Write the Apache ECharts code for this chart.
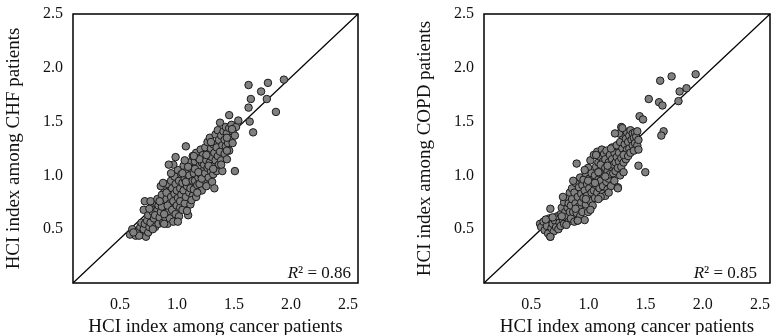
<!DOCTYPE html>
<html>
<head>
<meta charset="utf-8">
<script src="https://cdn.jsdelivr.net/npm/echarts@6/dist/echarts.min.js"></script>
<style>
  html, body { margin: 0; padding: 0; background: #fff; }
  #chart { width: 784px; height: 335px; }
</style>
</head>
<body>
<div id="chart"></div>
<script>
// axis settings shared by both panels
const axisMin = 0
const axisMax = 2.5
const axisStep = 0.5

const xAxisName = 'HCI index among cancer patients'
const yAxisNames = ['HCI index among CHF patients', 'HCI index among COPD patients']
const r2Values = ['0.86', '0.85']

// y = x reference line
const identityLine = [[0, 0], [2.5, 2.5]]

// [cancer HCI, CHF HCI]
const chfPoints = [
  [0.50,0.45],[0.52,0.50],[0.55,0.44],[0.57,0.48],[0.59,0.52],[0.61,0.45],[0.62,0.50],[0.64,0.43],
  [0.66,0.47],[0.58,0.44],[0.53,0.47],[0.60,0.56],[0.63,0.55],[0.67,0.52],[0.63,0.76],[0.62,0.68],
  [0.65,0.58],[0.66,0.63],[0.68,0.56],[0.69,0.71],[0.70,0.66],[0.71,0.60],[0.72,0.52],[0.73,0.74],
  [0.74,0.68],[0.68,0.76],[0.70,0.50],[0.75,0.55],[0.72,0.63],[0.67,0.69],[0.74,0.78],[0.76,0.61],
  [0.75,0.72],
  [0.77,0.66],[0.78,0.82],[0.79,0.56],[0.79,0.74],[0.80,0.88],[0.81,0.70],[0.81,0.61],[0.82,0.78],
  [0.83,0.92],[0.83,0.55],[0.84,0.67],[0.84,0.85],[0.85,0.74],[0.85,0.60],[0.77,0.90],[0.78,0.71],
  [0.80,0.64],[0.82,0.84],[0.76,0.76],[0.86,0.95],[0.86,0.80],[0.79,0.93],[0.83,0.72],[0.80,0.55],
  [0.87,0.68],[0.87,0.88],[0.88,0.57],[0.88,0.76],[0.89,0.99],[0.89,0.83],[0.90,0.64],[0.90,0.92],
  [0.91,0.72],[0.91,0.86],[0.92,1.05],[0.92,0.79],[0.93,0.95],[0.93,0.62],[0.94,0.70],[0.94,0.88],
  [0.95,1.01],[0.95,0.82],[0.88,1.10],[0.90,1.17],[0.86,1.02],[0.92,0.57],[0.94,0.76],[0.96,0.93],
  [0.96,0.68],[0.84,1.10],
  [0.97,1.09],[0.97,0.86],[0.98,0.74],[0.98,0.97],[0.99,1.27],[0.99,0.80],[1.00,1.04],[1.00,0.90],
  [1.01,0.63],[1.01,0.96],[1.02,1.12],[1.02,0.84],[1.03,0.99],[1.03,0.73],[1.04,1.06],[1.04,0.92],
  [1.05,1.18],[1.05,0.81],[0.98,1.14],[1.00,0.67],[1.02,1.00],[1.04,0.77],[0.96,1.02],[1.01,1.08],
  [1.03,0.88],[0.99,0.94],[1.05,0.95],
  [1.06,1.02],[1.06,0.87],[1.07,1.13],[1.07,0.95],[1.08,1.21],[1.08,0.80],[1.09,1.05],[1.09,0.91],
  [1.10,1.16],[1.10,0.98],[1.11,0.92],[1.11,1.09],[1.12,1.24],[1.12,1.01],[1.13,0.86],[1.13,1.12],
  [1.14,1.04],[1.14,1.19],[1.15,0.96],[1.15,1.10],[1.07,1.06],[1.09,0.84],[1.11,1.15],[1.13,0.97],
  [1.06,1.18],[1.10,1.03],
  [1.16,1.26],[1.16,1.02],[1.17,0.90],[1.17,1.14],[1.18,1.31],[1.18,1.07],[1.19,0.98],[1.19,1.20],
  [1.20,1.12],[1.20,1.35],[1.21,1.04],[1.21,1.25],[1.22,0.94],[1.22,1.17],[1.23,1.29],[1.23,1.09],
  [1.24,1.21],[1.24,0.88],[1.25,1.14],[1.25,1.38],[1.17,1.19],[1.19,1.09],[1.23,1.01],[1.21,1.31],
  [1.26,1.26],[1.26,1.04],[1.27,1.18],[1.27,1.42],[1.28,1.33],[1.28,1.10],[1.29,1.22],[1.29,1.49],
  [1.30,1.37],[1.30,1.14],[1.31,1.28],[1.31,1.04],[1.32,1.41],[1.33,1.20],[1.33,1.33],[1.34,1.45],
  [1.34,1.27],[1.35,1.39],[1.35,1.15],[1.36,1.30],
  [1.37,1.44],[1.37,1.23],[1.38,1.35],[1.39,1.47],[1.40,1.30],[1.40,1.41],[1.42,1.37],[1.43,1.45],
  [1.35,1.35],[1.395,1.43],[1.45,1.51],[1.37,1.56],[1.35,1.23],[1.42,1.04],[1.30,1.10],[1.23,1.06],
  [1.54,1.84],[1.71,1.86],[1.85,1.89],[1.65,1.78],[1.56,1.71],[1.70,1.71],[1.54,1.63],[1.78,1.59],
  [1.55,1.50],[1.58,1.40]
]

// [cancer HCI, COPD HCI]
const copdPoints = [
  [0.49,0.55],[0.50,0.52],[0.52,0.57],[0.53,0.49],[0.55,0.53],[0.56,0.46],[0.57,0.60],[0.58,0.43],
  [0.59,0.51],[0.60,0.55],[0.61,0.48],[0.62,0.58],[0.63,0.52],[0.64,0.62],[0.65,0.50],[0.58,0.69],
  [0.54,0.59],[0.60,0.61],[0.66,0.56],
  [0.67,0.64],[0.67,0.53],[0.68,0.70],[0.69,0.59],[0.70,0.75],[0.70,0.55],[0.71,0.66],[0.72,0.61],
  [0.73,0.79],[0.73,0.70],[0.74,0.57],[0.75,0.66],[0.75,0.84],[0.69,0.80],[0.72,0.54],[0.68,0.62],
  [0.74,0.74],
  [0.76,0.72],[0.76,0.60],[0.77,0.88],[0.77,0.78],[0.78,0.66],[0.79,0.84],[0.79,0.57],[0.80,0.74],
  [0.80,0.93],[0.81,1.11],[0.81,0.65],[0.82,0.80],[0.82,0.58],[0.83,0.89],[0.83,0.71],[0.84,0.98],
  [0.84,0.62],[0.85,0.83],[0.85,0.75],[0.78,0.95],[0.80,0.69],[0.86,0.91],[0.86,0.66],[0.88,0.585],
  [0.87,0.79],[0.87,0.96],[0.88,0.86],[0.89,0.73],[0.89,1.02],[0.90,0.92],[0.90,0.81],[0.91,0.66],
  [0.91,1.07],[0.92,0.88],[0.92,0.97],[0.93,0.76],[0.93,1.14],[0.94,0.84],[0.94,1.02],[0.95,0.93],
  [0.95,0.72],[0.89,0.78],[0.91,0.95],[0.93,0.68],[0.88,1.05],[0.96,1.19],[0.96,0.86],
  [0.97,1.00],[0.97,0.79],[0.98,1.08],[0.98,0.91],[0.99,1.22],[0.99,0.84],[1.00,1.12],[1.00,0.96],
  [1.01,1.04],[1.01,0.88],[1.02,1.17],[1.02,0.95],[1.03,1.24],[1.03,1.06],[1.04,0.90],[1.04,1.13],
  [1.05,1.00],[1.05,1.20],[0.98,1.19],[1.00,1.03],[1.02,1.10],[1.04,0.83],[1.06,1.07],[0.97,0.93],
  [1.06,1.15],[1.07,0.94],[1.07,1.23],[1.08,1.04],[1.08,0.87],[1.09,1.12],[1.09,0.97],[1.10,1.19],
  [1.10,1.01],[1.11,1.08],[1.11,0.90],[1.12,1.15],[1.12,1.26],[1.13,1.02],[1.13,1.10],[1.14,1.21],
  [1.14,0.95],[1.15,1.12],[1.15,1.04],[1.08,1.09],[1.11,1.25],[1.06,0.99],
  [1.16,1.17],[1.16,1.28],[1.17,1.07],[1.17,0.89],[1.18,1.21],[1.18,1.13],[1.19,1.00],[1.19,1.31],
  [1.20,1.16],[1.20,1.08],[1.21,1.25],[1.21,1.37],[1.22,1.12],[1.22,1.03],[1.23,1.29],[1.23,1.20],
  [1.24,1.15],[1.24,1.34],[1.25,1.24],[1.25,1.40],[1.18,1.39],[1.20,1.45],[1.22,1.19],
  [1.26,1.31],[1.26,1.18],[1.27,1.37],[1.27,1.25],[1.28,1.42],[1.28,1.21],[1.29,1.33],[1.30,1.28],
  [1.30,1.39],[1.31,1.35],[1.31,1.23],[1.32,1.40],[1.32,1.30],[1.33,1.36],[1.34,1.28],[1.34,1.41],
  [1.35,1.33],
  [1.145,1.39],[1.21,1.44],[1.35,1.24],[1.35,1.09],[1.41,1.03],[1.36,1.55],[1.39,1.52],[1.57,1.41],
  [1.55,1.37],[1.44,1.71],[1.53,1.68],[1.56,1.65],[1.54,1.88],[1.64,1.92],[1.71,1.78],[1.77,1.81],
  [1.70,1.69],[1.85,1.94],[0.82,0.58],[0.58,0.43],[1.06,0.81],[1.02,0.80],[1.17,0.88],[1.09,0.84],
  [1.00,0.78]
]

const fontFamily = 'Liberation Serif'
const tickFormatter = v => (v === 0 ? '' : v.toFixed(1))

const makeXAxis = idx => ({
  gridIndex: idx,
  type: 'value',
  min: axisMin,
  max: axisMax,
  interval: axisStep,
  name: xAxisName,
  nameLocation: 'middle',
  nameGap: 34,
  nameTextStyle: { fontFamily: fontFamily, fontSize: 19, color: '#111' },
  axisLine: { show: false },
  axisTick: { show: false },
  splitLine: { show: false },
  axisLabel: {
    formatter: tickFormatter,
    fontFamily: fontFamily,
    fontSize: 16,
    color: '#111',
    align: 'right',
    margin: 14
  }
})

const makeYAxis = idx => ({
  gridIndex: idx,
  type: 'value',
  min: axisMin,
  max: axisMax,
  interval: axisStep,
  name: yAxisNames[idx],
  nameLocation: 'middle',
  nameGap: 49,
  nameTextStyle: { fontFamily: fontFamily, fontSize: 19, color: '#111' },
  axisLine: { show: false },
  axisTick: { show: false },
  splitLine: { show: false },
  axisLabel: {
    formatter: tickFormatter,
    fontFamily: fontFamily,
    fontSize: 16,
    color: '#111',
    margin: 10
  }
})

const makeScatter = (idx, data) => ({
  type: 'scatter',
  xAxisIndex: idx,
  yAxisIndex: idx,
  data: data,
  symbolSize: 7.5,
  z: 3,
  itemStyle: { color: '#808080', borderColor: '#1a1a1a', borderWidth: 1, opacity: 1 }
})

const makeLine = idx => ({
  type: 'line',
  xAxisIndex: idx,
  yAxisIndex: idx,
  data: identityLine,
  showSymbol: false,
  symbol: 'none',
  z: 2,
  lineStyle: { color: '#000', width: 1.2 }
})

const chart = echarts.init(document.getElementById('chart'))
const option = {
  animation: false,
  grid: [
    { left: 73, top: 14, width: 285, height: 269, outerBoundsMode: 'none', show: true, borderColor: '#000', borderWidth: 1.5 },
    { left: 484, top: 14, width: 286, height: 269, outerBoundsMode: 'none', show: true, borderColor: '#000', borderWidth: 1.5 }
  ],
  xAxis: [makeXAxis(0), makeXAxis(1)],
  yAxis: [makeYAxis(0), makeYAxis(1)],
  series: [makeLine(0), makeLine(1), makeScatter(0, chfPoints), makeScatter(1, copdPoints)],
  graphic: [
    {
      type: 'text', right: 433, bottom: 53,
      style: {
        text: '{i|R}² = ' + r2Values[0],
        font: '17px ' + fontFamily, fill: '#111',
        rich: { i: { fontStyle: 'italic', fontFamily: fontFamily, fontSize: 17 } }
      }
    },
    {
      type: 'text', right: 27, bottom: 53,
      style: {
        text: '{i|R}² = ' + r2Values[1],
        font: '17px ' + fontFamily, fill: '#111',
        rich: { i: { fontStyle: 'italic', fontFamily: fontFamily, fontSize: 17 } }
      }
    }
  ]
}
chart.setOption(option)
</script>
</body>
</html>
